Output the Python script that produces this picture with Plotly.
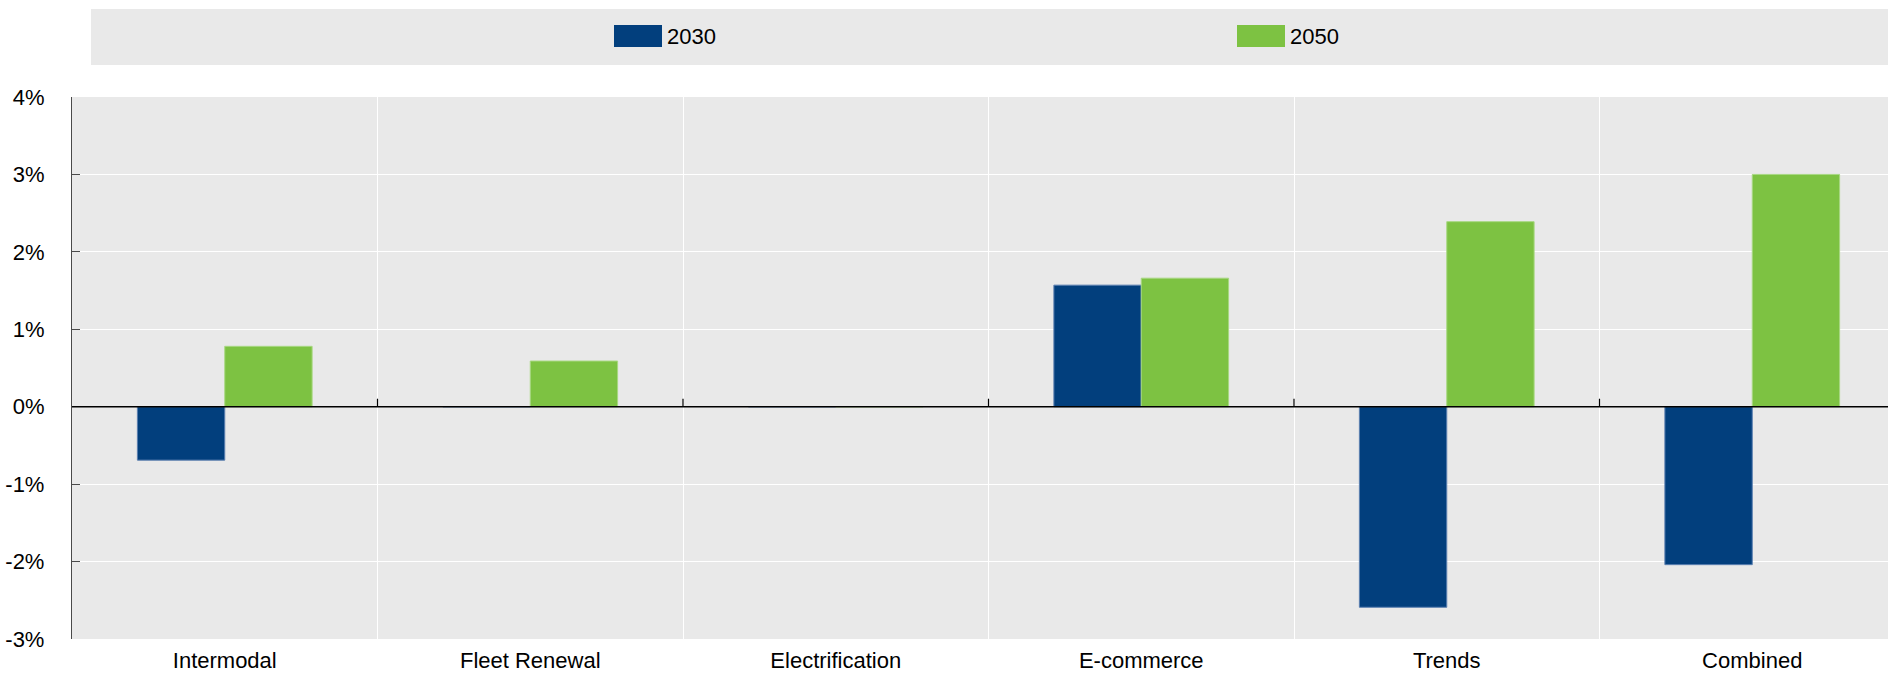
import plotly.graph_objects as go

# Change by measure and horizon (percent)
categories = ["Intermodal", "Fleet Renewal", "Electrification", "E-commerce", "Trends", "Combined"]
values_2030 = [-0.69, 0.0, 0.0, 1.57, -2.59, -2.04]
values_2050 = [0.78, 0.59, 0.0, 1.66, 2.39, 3.0]
series_names = ["2030", "2050"]
y_ticks = [-3, -2, -1, 0, 1, 2, 3, 4]
y_tick_labels = [f"{v}%" for v in y_ticks]

BLUE = "#023F7D"
GREEN = "#7DC242"
PANEL = "#E9E9E9"
NARROW = "Liberation Sans Narrow, Arial Narrow, Liberation Sans, Arial, sans-serif"
REGULAR = "Liberation Sans, Arial, sans-serif"

W, H = 1888, 675
ML, MR, MT, MB = 72, 0, 97, 36
plot_w = W - ML - MR
plot_h = H - MT - MB


def px_x(x):
    return (x - ML) / plot_w


def px_y(y):
    return (H - MB - y) / plot_h


fig = go.Figure()
fig.add_trace(go.Bar(
    name=series_names[0], x=categories, y=values_2030,
    marker=dict(color=BLUE, line=dict(color="#5A7FB0", width=1)),
    showlegend=False,
))
fig.add_trace(go.Bar(
    name=series_names[1], x=categories, y=values_2050,
    marker=dict(color=GREEN, line=dict(color="#A8D882", width=1)),
    showlegend=False,
))

shapes = []
# Legend band
shapes.append(dict(type="rect", xref="paper", yref="paper",
                   x0=px_x(91), x1=px_x(W + 5), y0=px_y(65), y1=px_y(9),
                   fillcolor=PANEL, line=dict(width=0), layer="below"))
annotations = []
for left, color, name in [(614, BLUE, series_names[0]), (1237, GREEN, series_names[1])]:
    shapes.append(dict(type="rect", xref="paper", yref="paper",
                       x0=px_x(left), x1=px_x(left + 48), y0=px_y(47), y1=px_y(25),
                       fillcolor=color, line=dict(width=0)))
    annotations.append(dict(xref="paper", yref="paper", x=px_x(left + 51), y=px_y(36),
                            text=name, showarrow=False, xanchor="left", yanchor="middle",
                            font=dict(family=NARROW, size=22, color="#000000")))

# Zero line drawn over the bars
shapes.append(dict(type="line", xref="paper", yref="y", x0=0, x1=1, y0=0, y1=0,
                   line=dict(color="#000000", width=1.6), layer="above"))

# Small tick marks on the zero line at category boundaries
for i in range(len(categories) - 1):
    shapes.append(dict(type="line", xref="x", yref="y",
                       x0=i + 0.5, x1=i + 0.5, y0=0, y1=8,
                       ysizemode="pixel", yanchor=0,
                       line=dict(color="#000000", width=1.2)))

fig.update_layout(
    width=W, height=H,
    margin=dict(l=ML, r=MR, t=MT, b=MB, autoexpand=False),
    paper_bgcolor="white",
    plot_bgcolor=PANEL,
    barmode="group",
    bargap=0.428,
    bargroupgap=0,
    showlegend=False,
    shapes=shapes,
    annotations=annotations,
    xaxis=dict(
        type="category",
        range=[-0.5, -0.5 + plot_w / 305.5],
        tickson="boundaries",
        showgrid=True, gridcolor="white", gridwidth=1.3,
        ticks="", showline=False,
        ticklabelstandoff=6,
        tickfont=dict(family=NARROW, size=22, color="#000000"),
        fixedrange=True,
    ),
    yaxis=dict(
        range=[-3, 4],
        tickvals=y_ticks, ticktext=y_tick_labels,
        showgrid=True, gridcolor="white", gridwidth=1.3,
        zeroline=False,
        showline=True, linecolor="#4A4A4A", linewidth=1.3,
        ticks="inside", ticklen=8, tickwidth=1.3, tickcolor="#4A4A4A",
        ticklabelstandoff=22,
        tickfont=dict(family=REGULAR, size=22, color="#000000"),
        fixedrange=True,
    ),
)

fig.write_html("out.html")
